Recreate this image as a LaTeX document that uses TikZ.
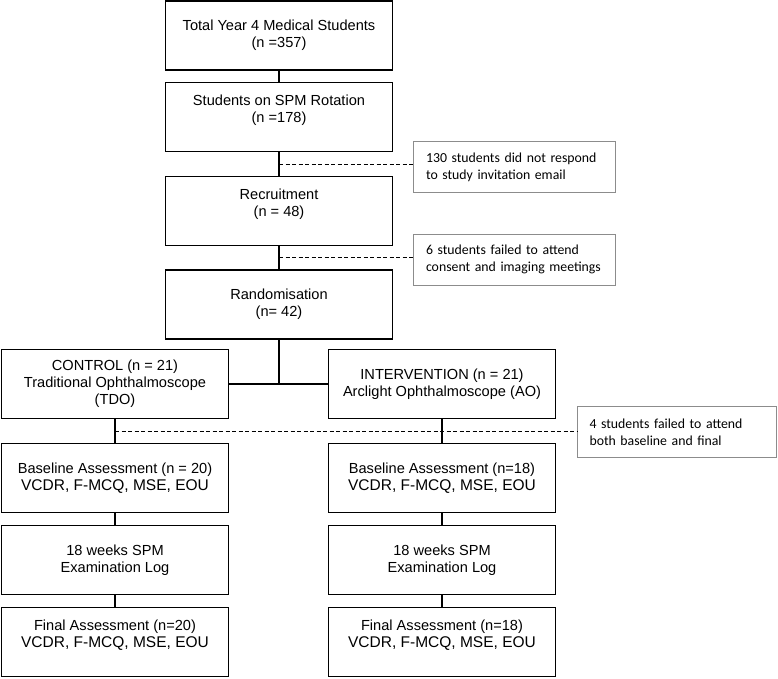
\documentclass[tikz,border=0pt]{standalone}
\usepackage{fontspec}
\setmainfont{Liberation Sans}
\newfontfamily\notefont{Carlito}
\usetikzlibrary{calc}

\begin{document}
\begin{tikzpicture}[x=1pt,y=-1pt,
		box/.style={draw, line width=1.8pt, minimum width=227pt, minimum height=69pt, align=center, inner sep=0pt, font=\fontsize{14.6}{16.8}\selectfont},
		note/.style={draw=black!45, line width=0.9pt, text width=176pt, inner xsep=13pt, minimum height=51pt, align=left, font=\notefont\fontsize{13.8}{17}\selectfont},
		link/.style={line width=2.4pt},
		lost/.style={line width=0.8pt, dash pattern=on 4pt off 2.5pt}]
			\useasboundingbox (0,0) rectangle (778,678);
			% main column
			\node[box] (total) at (279,35.5) {Total Year 4 Medical Students\\(n =357)};
			\node[box] (spm) at (279,117) {Students on SPM Rotation\\(n =178)\\~};
			\node[box] (recruit) at (279,211) {Recruitment\\(n = 48)\\~};
			\node[box] (random) at (279,304.5) {Randomisation\\(n= 42)};
			% two arms
			\node[box] (ctrl) at (115,384) {CONTROL (n = 21)\\Traditional Ophthalmoscope\\(TDO)};
			\node[box] (interv) at (442,384) {INTERVENTION (n = 21)\\Arclight Ophthalmoscope (AO)};
			\node[box] (baseL) at (115,478) {Baseline Assessment (n = 20)\\{\fontsize{15.5}{18}\selectfont VCDR, F-MCQ, MSE, EOU}};
			\node[box] (baseR) at (442,478) {Baseline Assessment (n=18)\\{\fontsize{15.5}{18}\selectfont VCDR, F-MCQ, MSE, EOU}};
			\node[box] (logL) at (115,560) {18 weeks SPM\\Examination Log};
			\node[box] (logR) at (442,560) {18 weeks SPM\\Examination Log};
			\node[box] (finalL) at (115,642) {Final Assessment (n=20)\\{\fontsize{15.5}{18}\selectfont VCDR, F-MCQ, MSE, EOU}\\~};
			\node[box] (finalR) at (442,642) {Final Assessment (n=18)\\{\fontsize{15.5}{18}\selectfont VCDR, F-MCQ, MSE, EOU}\\~};
			% drop-outs
			\node[note] (note1) at (514,167) {130 students did not respond\\to study invitation email};
			\node[note] (note2) at (514,259.5) {6 students failed to attend\\consent and imaging meetings};
			\node[note, text width=175pt, inner xsep=12pt] (note3) at (677,432) {4 students failed to attend\\both baseline and final};
			\coordinate (c1) at (279,164);
			\coordinate (c2) at (279,257);
			\coordinate (c3) at (115,431);
			\coordinate (split) at (279,384);
			\draw[lost] (c1) -- (c1 -| note1.west);
			\draw[lost] (c2) -- (c2 -| note2.west);
			\draw[lost] (c3) -- (c3 -| note3.west);
			% flow
			\draw[link] (total) -- (spm);
			\draw[link] (spm) -- (recruit);
			\draw[link] (recruit) -- (random);
			\draw[link] (random) -- (split);
			\draw[link] (ctrl) -- (interv);
			\draw[link] (ctrl) -- (baseL);
			\draw[link] (interv) -- (baseR);
			\draw[link] (baseL) -- (logL);
			\draw[link] (baseR) -- (logR);
			\draw[link] (logL) -- (finalL);
			\draw[link] (logR) -- (finalR);
		\end{tikzpicture}
\end{document}
